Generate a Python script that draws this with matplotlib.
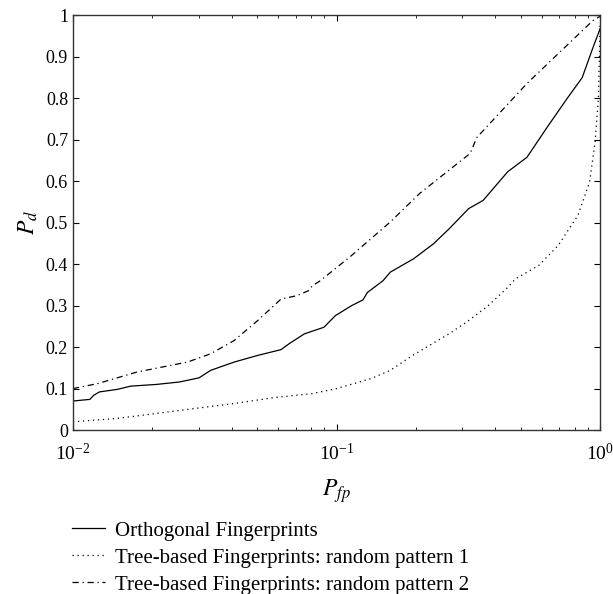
import matplotlib
matplotlib.use("Agg")
import matplotlib.pyplot as plt
from matplotlib.ticker import LogLocator, NullFormatter, FixedLocator

plt.rcParams['font.family'] = ['Liberation Serif', 'DejaVu Serif']
plt.rcParams['mathtext.fontset'] = 'stix'

# Orthogonal fingerprints (solid)
orth_x = [0.01, 0.0116, 0.012, 0.0126, 0.0147, 0.0166, 0.0207, 0.0254, 0.0301, 0.0333,
          0.0409, 0.0502, 0.0616, 0.066, 0.0755, 0.0896, 0.099, 0.114, 0.126, 0.131,
          0.15, 0.16, 0.196, 0.233, 0.267, 0.317, 0.36, 0.446, 0.528, 0.629, 0.75,
          0.855, 0.94, 1.0]
orth_y = [0.070, 0.074, 0.084, 0.092, 0.098, 0.106, 0.110, 0.116, 0.126, 0.144,
          0.164, 0.180, 0.194, 0.208, 0.232, 0.248, 0.276, 0.300, 0.314, 0.332,
          0.360, 0.381, 0.413, 0.449, 0.485, 0.534, 0.554, 0.623, 0.658, 0.730, 0.800,
          0.850, 0.923, 0.968]

# Tree-based, random pattern 1 (dotted)
tree1_x = [0.01, 0.0147, 0.0207, 0.029, 0.0409, 0.0575, 0.081, 0.1, 0.135, 0.16,
           0.19, 0.225, 0.267, 0.317, 0.376, 0.446, 0.478, 0.585, 0.693, 0.824,
           0.912, 0.957, 0.985, 1.0]
tree1_y = [0.020, 0.028, 0.040, 0.052, 0.064, 0.078, 0.088, 0.100, 0.124, 0.144,
           0.176, 0.204, 0.232, 0.264, 0.300, 0.344, 0.365, 0.397, 0.445, 0.518,
           0.598, 0.695, 0.80, 0.98]

# Tree-based, random pattern 2 (dash-dot)
tree2_x = [0.01, 0.0124, 0.0175, 0.0272, 0.0333, 0.0409, 0.0502, 0.0616, 0.0706,
           0.0782, 0.081, 0.0867, 0.114, 0.16, 0.207, 0.321, 0.341, 0.528, 0.94, 1.0]
tree2_y = [0.100, 0.112, 0.140, 0.164, 0.184, 0.216, 0.264, 0.316, 0.324,
           0.336, 0.348, 0.360, 0.421, 0.502, 0.571, 0.667, 0.706, 0.836, 0.988, 0.998]

labels = ['Orthogonal Fingerprints',
          'Tree-based Fingerprints: random pattern 1',
          'Tree-based Fingerprints: random pattern 2']

fig = plt.figure(figsize=(6.13, 5.94), dpi=100)
ax = fig.add_axes([0.119, 0.276, 0.860, 0.698])

ax.plot(orth_x, orth_y, color='black', lw=0.9, ls='-', label=labels[0])
ax.plot(tree1_x, tree1_y, color='black', lw=0.9, ls=(0, (1, 3)), label=labels[1])
ax.plot(tree2_x, tree2_y, color='black', lw=0.9, ls=(0, (5, 3, 1, 3)), label=labels[2])

ax.set_xscale('log')
ax.set_xlim(0.01, 1)
ax.set_ylim(0, 1)
ax.yaxis.set_major_locator(FixedLocator([i / 10 for i in range(11)]))
ax.set_yticklabels(['0'] + ['0.%d' % i for i in range(1, 10)] + ['1'])
ax.xaxis.set_minor_locator(LogLocator(base=10, subs=range(2, 10)))
ax.xaxis.set_minor_formatter(NullFormatter())
ax.tick_params(which='both', direction='in', top=True, right=True, labelsize=13)
ax.tick_params(which='major', length=4)
ax.tick_params(which='minor', length=2.5)
ax.tick_params(axis='x', which='major', pad=9, labelsize=14)
for s in ax.spines.values():
    s.set_linewidth(1.0)
    s.set_color('#333333')

ax.set_xlabel('$P_{fp}$', fontsize=17, labelpad=10)
ax.set_ylabel('$P_d$', fontsize=17, labelpad=4)

fig.legend(loc='upper left', bbox_to_anchor=(0.104, 0.137), frameon=False,
           fontsize=15, handlelength=1.6, handletextpad=0.45, labelspacing=0.36,
           borderaxespad=0)

fig.savefig('out.png', dpi=100)
